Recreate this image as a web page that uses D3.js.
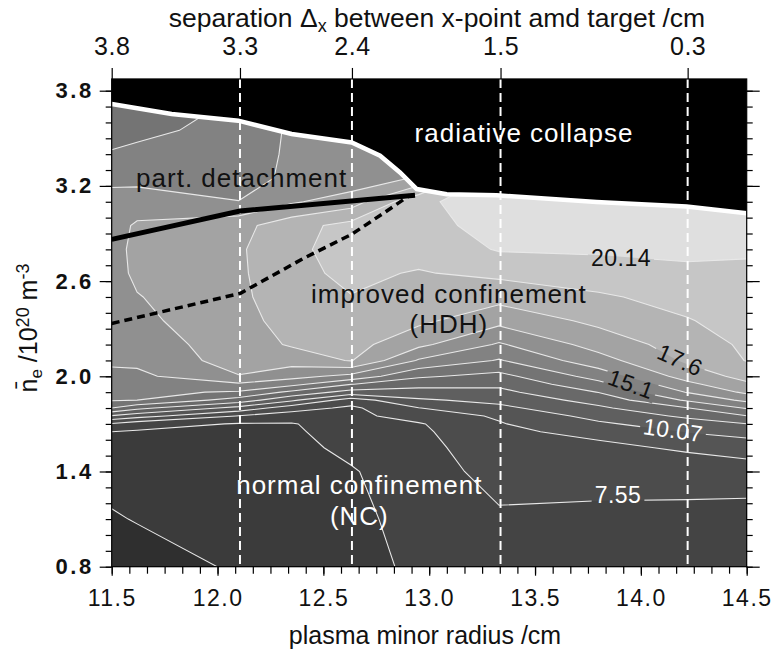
<!DOCTYPE html>
<html>
<head>
<meta charset="utf-8">
<script src="https://cdn.jsdelivr.net/npm/d3@7"></script>
<style>
body { margin: 0; background: #fff; }
svg { display: block; font-family: "Liberation Sans", Arial, sans-serif; }
</style>
</head>
<body>
<svg id="chart" width="772" height="653"></svg>
<script>
// grid of the measurements: plasma minor radius (cm) x line density (1e20 m^-3)
var rGrid = [11.5, 11.62, 12.1, 12.35, 12.63, 12.95, 13.33, 13.8, 14.22, 14.5];
var neGrid = [0.8, 1.1, 1.4, 1.55, 1.65, 1.7, 1.75, 1.8, 1.85, 1.9, 1.95, 2.0, 2.1, 2.2, 2.35, 2.5, 2.65, 2.8, 2.95, 3.1, 3.25, 3.4, 3.55, 3.7, 3.9];

// confinement values, one column per radius, bottom -> top
var tau_r1150 = [4.0, 4.9, 5.5, 5.9, 6.27, 7.4, 9.97, 12.59, 13.96, 14.25, 14.53, 14.82, 15.3, 15.55, 15.75, 15.85, 15.9, 15.9, 15.8, 15.4, 14.9, 13.95, 13.4, 13.1, 12.8];
var tau_r1162 = [4.4, 5.1, 5.6, 5.9, 6.15, 6.85, 9.32, 11.67, 13.85, 14.15, 14.45, 14.8, 15.4, 15.7, 16.1, 16.3, 16.6, 16.7, 16.55, 15.6, 14.8, 14.1, 13.6, 13.3, 13.0];
var tau_r1210 = [5.2, 5.5, 5.8, 6.0, 6.1, 6.2, 7.5, 9.65, 12.05, 13.7, 14.9, 16.3, 16.9, 17.0, 17.1, 17.3, 17.4, 17.45, 17.2, 15.13, 14.5, 14.3, 14.2, 14.0, 14.0];
var tau_r1235 = [5.4, 5.6, 5.9, 6.0, 6.1, 6.2, 6.94, 8.1, 10.3, 12.3, 14.23, 15.52, 16.9, 17.75, 18.2, 18.5, 18.6, 18.6, 18.4, 16.2, 15.4, 15.35, 15.3, 15.0, 15.0];
var tau_r1263 = [5.9, 6.0, 6.2, 6.53, 6.85, 7.0, 7.2, 7.3, 8.2, 10.82, 12.63, 14.72, 17.7, 18.1, 18.5, 18.85, 19.1, 19.4, 19.3, 17.0, 15.5, 15.5, 15.4, 15.0, 15.0];
var tau_r1295 = [6.5, 6.7, 6.9, 7.1, 7.3, 7.44, 8.11, 8.78, 9.9, 10.83, 11.76, 12.77, 14.98, 16.66, 17.89, 18.35, 18.8, 19.3, 19.8, 19.9, 16.5, 16.0, 16.0, 16.0, 16.0];
var tau_r1333 = [6.9, 7.35, 8.04, 8.38, 8.61, 8.72, 8.97, 9.76, 10.4, 10.99, 11.6, 12.2, 13.75, 14.95, 16.75, 18.05, 19.17, 20.24, 20.5, 20.8, 20.8, 20.8, 20.8, 20.8, 20.8];
var tau_r1380 = [6.8, 7.2, 8.11, 8.56, 9.09, 9.85, 10.5, 11.1, 11.82, 12.63, 13.47, 14.34, 15.86, 16.86, 17.92, 18.7, 19.62, 20.3, 20.6, 20.8, 20.8, 20.8, 20.8, 20.8, 20.8];
var tau_r1422 = [6.7, 7.1, 8.2, 8.96, 10.14, 10.81, 11.55, 12.55, 14.03, 15.17, 16.04, 16.9, 17.84, 18.2, 18.8, 19.34, 19.9, 20.4, 20.6, 20.8, 20.8, 20.8, 20.8, 20.8, 20.8];
var tau_r1450 = [6.6, 7.0, 8.26, 9.31, 10.55, 11.3, 12.55, 13.96, 15.39, 16.6, 17.4, 18.02, 18.93, 19.1, 19.4, 19.6, 19.9, 20.3, 20.5, 20.6, 20.6, 20.6, 20.6, 20.6, 20.6];
var tauColumns = [tau_r1150, tau_r1162, tau_r1210, tau_r1235, tau_r1263, tau_r1295, tau_r1333, tau_r1380, tau_r1422, tau_r1450];

var levels = [1.26, 2.52, 3.78, 5.03, 6.29, 7.55, 8.81, 10.07, 11.33, 12.59, 13.85, 15.1, 16.36, 17.62, 18.88, 20.14, 21.4];
var bandGrays = ["#2f2f2f", "#2f2f2f", "#2f2f2f", "#2f2f2f", "#3b3b3b", "#444444", "#4c4c4c", "#555555", "#5f5f5f", "#696969", "#747474", "#828282", "#909090", "#a3a3a3", "#b4b4b4", "#c6c6c6", "#dfdfdf", "#e6e6e6"];

// radiative collapse limit
var collapseR = [11.5, 11.783, 12.098, 12.35, 12.634, 12.768, 12.862, 12.941, 13.083, 13.319, 13.791, 14.216, 14.5];
var collapseNe = [3.716, 3.653, 3.611, 3.527, 3.474, 3.39, 3.285, 3.18, 3.148, 3.141, 3.099, 3.07, 3.028];
// onset of partial detachment (solid) and of improved confinement (dashed)
var detachR = [11.5, 12.106, 12.933];
var detachNe = [2.863, 3.042, 3.141];
var hdhR = [11.5, 12.106, 12.413, 12.634, 12.776, 12.909];
var hdhNe = [2.333, 2.522, 2.748, 2.895, 3.021, 3.141];

// top axis: separation between x-point and target
var sepLabels = ["3.8", "3.3", "2.4", "1.5", "0.3"];
var sepRadius = [11.5, 12.106, 12.635, 13.337, 14.221];

var rTicks = [11.5, 12.0, 12.5, 13.0, 13.5, 14.0, 14.5];
var neTicks = [0.8, 1.4, 2.0, 2.6, 3.2, 3.8];

var contourLabels = ["20.14", "17.6", "15.1", "10.07", "7.55"];
var contourLabelR = [13.906, 14.185, 13.953, 14.152, 13.892];
var contourLabelNe = [2.746, 2.103, 1.951, 1.661, 1.25];
var contourLabelAngle = [0, 24, 20, 8, 0];
var contourLabelColor = ["#111", "#111", "#111", "#fff", "#fff"];

var regionLabels = ["radiative collapse", "part. detachment", "improved confinement", "(HDH)", "normal confinement", "(NC)"];
var regionLabelR = [13.448, 12.114, 13.093, 13.093, 12.67, 12.67];
var regionLabelNe = [3.478, 3.195, 2.462, 2.273, 1.258, 1.063];
var regionLabelColor = ["#fff", "#111", "#111", "#111", "#fff", "#fff"];

var svg = d3.select("#chart");
var x = d3.scaleLinear().domain([11.5, 14.5]).range([111.7, 746.7]);
var y = d3.scaleLinear().domain([0.8, 3.8]).range([566.7, 90.7]);
var neTop = 3.874;

var n = rGrid.length, m = neGrid.length;
var values = new Array(n * m);
for (var j = 0; j < m; j++) {
  for (var i = 0; i < n; i++) values[j * n + i] = tauColumns[i][j];
}
var rIdx = d3.scaleLinear().domain(d3.range(n)).range(rGrid).clamp(true);
var neIdx = d3.scaleLinear().domain(d3.range(m)).range(neGrid).clamp(true);
function toPx(p) { return [x(rIdx(p[0] - 0.5)), y(neIdx(p[1] - 0.5))]; }

var contours = d3.contours().size([n, m]).thresholds(levels)(values);

var defs = svg.append("defs");
defs.append("clipPath").attr("id", "plotclip")
  .append("rect")
  .attr("x", x(11.5)).attr("y", y(neTop))
  .attr("width", x(14.5) - x(11.5)).attr("height", y(0.8) - y(neTop));

var plot = svg.append("g").attr("clip-path", "url(#plotclip)");

plot.append("rect")
  .attr("x", x(11.5)).attr("y", y(neTop))
  .attr("width", x(14.5) - x(11.5)).attr("height", y(0.8) - y(neTop))
  .attr("fill", bandGrays[0]);

function ringPath(ring) {
  return "M" + ring.map(function(p) { var q = toPx(p); return q[0].toFixed(2) + "," + q[1].toFixed(2); }).join("L") + "Z";
}

plot.selectAll("path.band")
  .data(contours)
  .enter().append("path")
  .attr("class", "band")
  .attr("fill-rule", "evenodd")
  .attr("fill", function(d, k) { return bandGrays[k + 1]; })
  .attr("d", function(d) {
    return d.coordinates.map(function(poly) { return poly.map(ringPath).join(""); }).join("");
  });

// contour lines without the pieces that run along the grid border
function onBorder(p, q) {
  return (p[0] <= 0.5 && q[0] <= 0.5) || (p[0] >= n - 0.5 && q[0] >= n - 0.5) ||
         (p[1] <= 0.5 && q[1] <= 0.5) || (p[1] >= m - 0.5 && q[1] >= m - 0.5);
}
var isoLines = [];
contours.forEach(function(c) {
  c.coordinates.forEach(function(poly) {
    poly.forEach(function(ring) {
      var cur = [];
      for (var k = 0; k < ring.length; k++) {
        if (k > 0 && onBorder(ring[k - 1], ring[k])) {
          if (cur.length > 1) isoLines.push(cur);
          cur = [ring[k]];
          continue;
        }
        cur.push(ring[k]);
      }
      if (cur.length > 1) isoLines.push(cur);
    });
  });
});

// contour labels (+ mask so the lines break under them)
var mask = defs.append("mask").attr("id", "labelmask");
mask.append("rect").attr("width", 772).attr("height", 653).attr("fill", "#fff");

var lineGen = d3.line();
plot.append("g")
  .attr("mask", "url(#labelmask)")
  .selectAll("path")
  .data(isoLines)
  .enter().append("path")
  .attr("fill", "none")
  .attr("stroke", "#e8e8e8")
  .attr("stroke-width", 1.1)
  .attr("d", function(d) { return lineGen(d.map(toPx)); });

// radiative collapse area
var collapse = collapseR.map(function(r, i) { return [r, collapseNe[i]]; });
plot.append("path")
  .attr("fill", "#000")
  .attr("d", d3.area()
    .x(function(d) { return x(d[0]); })
    .y0(y(neTop))
    .y1(function(d) { return y(d[1]); })(collapse));
plot.append("path")
  .attr("fill", "none")
  .attr("stroke", "#fff")
  .attr("stroke-width", 4.5)
  .attr("d", d3.line().x(function(d) { return x(d[0]); }).y(function(d) { return y(d[1]); })(collapse));

// separation marks
plot.selectAll("line.sep")
  .data(sepRadius.slice(1))
  .enter().append("line")
  .attr("x1", function(d) { return x(d); }).attr("x2", function(d) { return x(d); })
  .attr("y1", y(neTop)).attr("y2", y(0.8))
  .attr("stroke", "#fff")
  .attr("stroke-width", 2)
  .attr("stroke-dasharray", "9,5");

var pl = d3.line().x(function(d) { return x(d[0]); }).y(function(d) { return y(d[1]); });
plot.append("path")
  .attr("fill", "none").attr("stroke", "#000").attr("stroke-width", 5)
  .attr("d", pl(detachR.map(function(r, i) { return [r, detachNe[i]]; })));
plot.append("path")
  .attr("fill", "none").attr("stroke", "#000").attr("stroke-width", 3.5)
  .attr("stroke-dasharray", "8,5")
  .attr("d", pl(hdhR.map(function(r, i) { return [r, hdhNe[i]]; })));

contourLabels.forEach(function(t, i) {
  var cx = x(contourLabelR[i]), cy = y(contourLabelNe[i]);
  var tr = "translate(" + cx + "," + cy + ") rotate(" + contourLabelAngle[i] + ")";
  var txt = svg.append("text")
    .attr("transform", tr)
    .attr("text-anchor", "middle")
    .attr("dy", "0.35em")
    .attr("font-size", 23)
    .attr("letter-spacing", 0.5)
    .attr("fill", contourLabelColor[i])
    .text(t);
  var bb = txt.node().getBBox();
  mask.append("rect")
    .attr("transform", tr)
    .attr("x", bb.x - 3).attr("y", bb.y + 2)
    .attr("width", bb.width + 6).attr("height", bb.height - 4)
    .attr("fill", "#000");
});

regionLabels.forEach(function(t, i) {
  svg.append("text")
    .attr("x", x(regionLabelR[i]))
    .attr("y", y(regionLabelNe[i]))
    .attr("text-anchor", "middle")
    .attr("font-size", 26)
    .attr("letter-spacing", 1)
    .attr("fill", regionLabelColor[i])
    .text(t);
});

// axes
function styleAxis(g, size, weight, spacing) {
  g.select(".domain").remove();
  g.selectAll(".tick line").attr("stroke", "#000").attr("stroke-width", 1.2);
  g.selectAll(".tick text")
    .attr("font-family", "'Liberation Sans', Arial, sans-serif")
    .attr("font-size", size)
    .attr("font-weight", weight)
    .attr("letter-spacing", spacing)
    .attr("fill", "#111");
}
var yMinor = d3.range(8, 39).map(function(k) { return k / 10; });
var xMinor = d3.range(0, 37).map(function(k) { return 11.5 + k / 12; });
var yTopPx = y(neTop);

svg.append("g").attr("transform", "translate(" + x(11.5) + ",0)")
  .call(d3.axisLeft(y).tickValues(yMinor).tickSize(6).tickFormat(""))
  .call(styleAxis, 0, "normal", 0);
svg.append("g").attr("transform", "translate(" + x(11.5) + ",0)")
  .call(d3.axisLeft(y).tickValues(neTicks).tickSize(12).tickPadding(6).tickFormat(d3.format(".1f")))
  .call(styleAxis, 22, "bold", 2.5);
svg.append("g").attr("transform", "translate(" + x(14.5) + ",0)")
  .call(d3.axisRight(y).tickValues(yMinor).tickSize(6).tickFormat(""))
  .call(styleAxis, 0, "normal", 0);
svg.append("g").attr("transform", "translate(" + x(14.5) + ",0)")
  .call(d3.axisRight(y).tickValues(neTicks).tickSize(13).tickFormat(""))
  .call(styleAxis, 0, "normal", 0);
svg.append("g").attr("transform", "translate(0," + y(0.8) + ")")
  .call(d3.axisBottom(x).tickValues(xMinor).tickSize(7).tickFormat(""))
  .call(styleAxis, 0, "normal", 0);
svg.append("g").attr("transform", "translate(0," + y(0.8) + ")")
  .call(d3.axisBottom(x).tickValues(rTicks).tickSize(9).tickPadding(14).tickFormat(d3.format(".1f")))
  .call(styleAxis, 23, "normal", 1.5);
svg.append("g").attr("transform", "translate(0," + yTopPx + ")")
  .call(d3.axisTop(x).tickValues(sepRadius).tickSize(11).tickPadding(13).tickFormat(function(d, i) { return sepLabels[i]; }))
  .call(styleAxis, 25, "normal", 0.5);

svg.append("rect")
  .attr("x", x(11.5)).attr("y", yTopPx)
  .attr("width", x(14.5) - x(11.5)).attr("height", y(0.8) - yTopPx)
  .attr("fill", "none").attr("stroke", "#000").attr("stroke-width", 1.2);

// axis titles
var title = svg.append("text")
  .attr("x", 437).attr("y", 27)
  .attr("text-anchor", "middle")
  .attr("font-size", 26.5)
  .attr("fill", "#111");
title.append("tspan").text("separation \u0394");
title.append("tspan").attr("font-size", 18).attr("dy", 5).text("x");
title.append("tspan").attr("dy", -5).text(" between x-point amd target /cm");

svg.append("text")
  .attr("x", 425).attr("y", 644)
  .attr("text-anchor", "middle")
  .attr("font-size", 25)
  .attr("fill", "#111")
  .text("plasma minor radius /cm");

var yl = svg.append("text")
  .attr("transform", "translate(37,328) rotate(-90)")
  .attr("text-anchor", "middle")
  .attr("font-size", 25)
  .attr("fill", "#111");
yl.append("tspan").text("n\u0304");
yl.append("tspan").attr("font-size", 17).attr("dy", 5).text("e");
yl.append("tspan").attr("dy", -5).text(" /10");
yl.append("tspan").attr("font-size", 18).attr("dy", -8).text("20");
yl.append("tspan").attr("dy", 8).text(" m");
yl.append("tspan").attr("font-size", 18).attr("dy", -8).text("-3");
</script>
</body>
</html>
